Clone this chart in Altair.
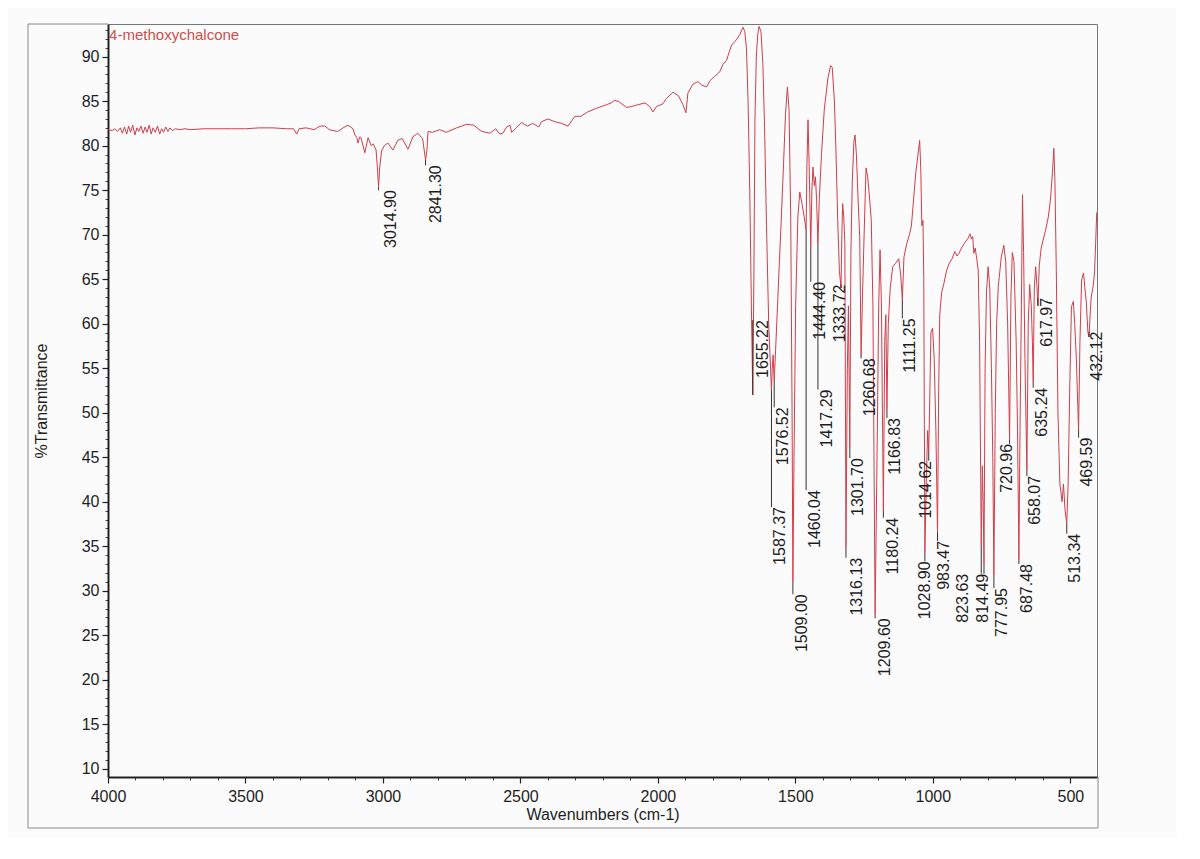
import altair as alt
import pandas as pd

# ---------------- spectrum ----------------
wavenumber = [
    4000, 3985, 3975, 3965, 3955, 3948, 3940, 3932, 3925, 3918, 3910, 3902, 3895, 3888, 3880,
    3872, 3865, 3858, 3850, 3843, 3836, 3828, 3820, 3812, 3805, 3798, 3790, 3782, 3775, 3765,
    3755, 3740, 3720, 3700, 3650, 3600, 3550, 3500, 3450, 3400, 3350, 3325, 3314, 3305, 3280,
    3250, 3229, 3211, 3195, 3182, 3164, 3145, 3127, 3109, 3102, 3095, 3091, 3084, 3080, 3066,
    3054, 3043, 3035, 3025, 3020, 3016, 3012, 3005, 2995, 2982, 2964, 2946, 2930, 2909, 2891,
    2873, 2856, 2850, 2845, 2840, 2836, 2820, 2793, 2770, 2732, 2696, 2670, 2641, 2611, 2590,
    2575, 2564, 2550, 2538, 2532, 2515, 2496, 2475, 2455, 2433, 2423, 2400, 2375, 2350, 2327,
    2302, 2280, 2255, 2223, 2187, 2170, 2157, 2140, 2114, 2095, 2073, 2047, 2030, 2018, 2005,
    1982, 1969, 1945, 1925, 1909, 1898, 1891, 1873, 1855, 1840, 1823, 1811, 1793, 1775, 1764,
    1750, 1740, 1732, 1720, 1712, 1702, 1695, 1690, 1684, 1678, 1672, 1666, 1660, 1655, 1651,
    1647, 1642, 1637, 1632, 1625, 1618, 1612, 1605, 1597, 1587, 1584, 1581, 1577, 1572, 1565,
    1558, 1551, 1543, 1536, 1529, 1523, 1517, 1512, 1509, 1505, 1499, 1491, 1484, 1476, 1468,
    1461, 1458, 1454, 1450, 1444, 1440, 1436, 1431, 1427, 1423, 1418, 1413, 1405, 1395, 1382,
    1372, 1366, 1358, 1352, 1346, 1340, 1334, 1331, 1328, 1324, 1320, 1316, 1311, 1307, 1302,
    1298, 1293, 1287, 1283, 1278, 1272, 1266, 1261, 1256, 1250, 1243, 1237, 1230, 1224, 1218,
    1210, 1203, 1197, 1192, 1187, 1180, 1175, 1171, 1167, 1162, 1155, 1146, 1135, 1124, 1117,
    1111, 1105, 1095, 1085, 1078, 1070, 1062, 1054, 1048, 1044, 1040, 1036, 1033, 1029, 1024,
    1019, 1015, 1011, 1007, 1001, 995, 989, 983, 979, 975, 968, 960, 950, 940, 930,
    920, 912, 905, 896, 884, 872, 865, 860, 855, 851, 846, 840, 835, 830, 824,
    820, 817, 814, 810, 805, 799, 793, 787, 782, 778, 773, 768, 762, 751, 742,
    735, 728, 721, 716, 711, 705, 697, 692, 687, 683, 678, 674, 670, 665, 658,
    653, 648, 642, 638, 635, 631, 626, 622, 618, 613, 606, 598, 590, 580, 572,
    565, 560, 556, 551, 545, 538, 530, 525, 519, 513, 508, 502, 496, 489, 484,
    478, 474, 470, 465, 459, 452, 447, 442, 436, 432, 428, 424, 418, 412, 408,
    404,
]
transmittance = [
    81.8, 81.7, 81.9, 81.6, 82.0, 81.4, 82.1, 81.3, 82.2, 81.5, 82.3, 81.2, 82.0, 81.6, 82.2,
    81.4, 82.1, 81.5, 82.3, 81.3, 82.0, 81.5, 82.2, 81.3, 81.9, 81.5, 82.1, 81.6, 82.0, 81.7,
    81.9, 81.8, 81.9, 81.8, 81.9, 81.9, 81.9, 81.9, 82.0, 82.0, 81.9, 81.9, 81.3, 81.9, 82.0,
    81.8, 82.2, 82.2, 81.8, 81.7, 81.6, 82.0, 82.3, 81.9, 81.2, 80.9, 80.3, 81.0, 80.9, 79.2,
    80.9, 80.0, 80.2, 79.5, 77.5, 75.3, 77.5, 79.4, 80.0, 80.3, 79.5, 80.6, 80.8, 79.6, 81.0,
    81.4, 80.8, 79.5, 78.4, 79.5, 81.6, 81.5, 81.8, 81.5, 82.0, 82.4, 82.3, 81.6, 81.4, 81.9,
    81.3, 81.4, 82.1, 82.3, 81.5, 82.0, 82.6, 82.2, 82.5, 82.1, 82.7, 83.0, 82.7, 82.5, 82.2,
    83.3, 83.3, 83.8, 84.2, 84.6, 84.8, 85.1, 84.9, 84.3, 84.4, 84.6, 84.8, 84.4, 83.8, 84.4,
    84.7, 85.3, 86.0, 85.6, 84.6, 83.7, 85.9, 86.9, 87.2, 86.8, 86.6, 87.3, 87.8, 88.3, 89.1,
    89.6, 90.6, 91.3, 91.7, 92.0, 92.5, 93.0, 93.3, 92.8, 91.0, 85.0, 75.0, 62.0, 52.0, 65.0,
    83.0, 90.0, 92.5, 93.4, 92.8, 89.0, 82.0, 71.0, 60.0, 52.5, 55.0, 56.5, 53.5, 57.0, 62.0,
    67.0, 72.0, 78.0, 83.5, 86.6, 84.0, 72.0, 50.0, 31.0, 45.0, 62.0, 72.0, 74.8, 73.5, 72.0,
    70.5, 78.0, 82.9, 78.0, 68.5, 75.0, 77.6, 75.5, 76.5, 74.0, 69.0, 74.0, 79.0, 84.0, 87.5,
    89.0, 88.8, 85.0, 79.0, 71.6, 66.0, 64.0, 70.0, 73.5, 72.0, 69.0, 35.0, 55.0, 62.0, 46.0,
    68.0, 76.0, 80.5, 81.2, 79.0, 74.0, 69.8, 56.5, 63.0, 70.0, 77.5, 76.5, 74.0, 71.7, 62.0,
    27.3, 45.0, 62.0, 68.3, 62.0, 39.0, 58.0, 61.0, 50.4, 60.0, 64.0, 66.4, 66.8, 67.3, 65.5,
    62.7, 67.5, 69.0, 70.0, 71.0, 74.0, 77.0, 79.0, 80.6, 77.5, 71.0, 71.6, 65.0, 34.3, 42.0,
    48.0, 45.6, 52.0, 59.0, 59.5, 56.0, 48.0, 36.5, 52.0, 61.0, 63.5, 64.5, 66.0, 66.8, 67.3,
    68.1, 67.6, 67.9, 68.5, 69.1, 69.6, 70.1, 69.5, 69.8, 67.9, 68.5, 67.2, 66.0, 58.0, 35.0,
    44.0, 40.0, 33.0, 55.0, 63.5, 66.4, 64.0, 55.0, 45.0, 31.7, 50.0, 60.0, 64.2, 67.5, 68.8,
    67.0, 60.0, 47.0, 63.0, 68.0, 67.0, 58.0, 48.0, 33.5, 48.0, 62.0, 74.5, 68.0, 56.0, 43.5,
    60.0, 64.4, 62.0, 58.0, 53.5, 64.0, 66.4, 64.5, 62.0, 66.5, 68.5, 69.5, 70.5, 72.0, 74.0,
    77.0, 79.7, 76.0, 66.0, 50.0, 42.0, 40.0, 42.0, 39.0, 37.5, 42.0, 53.0, 61.9, 62.5, 60.0,
    56.0, 52.0, 48.0, 58.0, 64.9, 65.7, 64.0, 62.5, 59.0, 58.5, 61.0, 63.0, 64.0, 65.7, 69.0,
    72.5,
]

# ---------------- peak labels ----------------
peak_text = ["3014.90", "2841.30", "1655.22", "1587.37", "1576.52", "1509.00", "1460.04",
             "1444.40", "1417.29", "1333.72", "1316.13", "1301.70", "1260.68", "1209.60",
             "1180.24", "1166.83", "1111.25", "1028.90", "1014.62", "983.47", "823.63",
             "814.49", "777.95", "720.96", "687.48", "658.07", "635.24", "617.97", "513.34",
             "469.59", "432.12"]
peak_pos = [3016, 2845, 1655, 1587, 1577, 1509, 1461, 1444, 1418, 1334, 1316, 1302, 1261,
            1210, 1180, 1167, 1111, 1029, 1015, 983, 824, 814, 778, 721, 687, 658, 635, 618,
            513, 470, 432]
peak_min = [75.3, 78.4, 52.0, 52.5, 53.5, 31.0, 70.5, 68.5, 69.0, 64.0, 35.0, 46.0, 56.5,
            27.3, 39.0, 50.4, 62.7, 34.3, 45.6, 36.5, 35.0, 33.0, 31.7, 47.0, 33.5, 43.5,
            53.5, 62.0, 37.5, 48.0, 58.5]
label_pos = [2971, 2807, 1618, 1557, 1546, 1477, 1429, 1411, 1386, 1338, 1277, 1273, 1229,
             1175, 1146, 1138, 1084, 1029, 1026, 960, 891, 819, 749, 731, 659, 630, 604, 586,
             484, 440, 404]
label_top = [75.0, 77.8, 60.4, 39.4, 50.6, 29.6, 41.3, 64.7, 52.6, 64.4, 33.7, 44.9, 56.1,
             26.9, 38.2, 49.4, 60.6, 33.3, 44.6, 35.6, 31.9, 31.9, 30.3, 46.5, 33.0, 42.9,
             52.8, 62.9, 36.4, 47.2, 59.1]

x_major = [4000, 3500, 3000, 2500, 2000, 1500, 1000, 500]
x_minor = list(range(4000, 400, -100))
y_major = list(range(10, 95, 5))
y_minor = list(range(10, 94))

sample_name = "4-methoxychalcone"

FONT = "Liberation Sans"
TXT = "#1e1e1e"
FS = 16

spec = pd.DataFrame({"wn": wavenumber, "T": transmittance})
peaks = pd.DataFrame({"text": peak_text, "pwn": peak_pos, "pmin": peak_min,
                      "lwn": label_pos, "ltop": label_top})
title_df = pd.DataFrame({"wn": [3996], "T": [92.4], "name": [sample_name]})

xs = alt.Scale(domain=[403, 4000], reverse=True, nice=False, zero=False)
ys = alt.Scale(domain=[9.07, 93.67], nice=False, zero=False)

x_axis = alt.Axis(values=x_major, title="Wavenumbers (cm-1)", orient="bottom", grid=False,
                  labelFont=FONT, labelFontSize=FS, labelColor=TXT, labelFlush=False,
                  labelPadding=5, tickSize=6, tickColor="#222", tickWidth=1.2,
                  domainColor="#222", domainWidth=2, titleFont=FONT, titleFontSize=FS,
                  titleFontWeight="normal", titleColor=TXT, titlePadding=2, format="d")
y_axis = alt.Axis(values=y_major, title="%Transmittance", orient="left", grid=False,
                  labelFont=FONT, labelFontSize=FS, labelColor=TXT, labelPadding=3,
                  tickSize=6, tickColor="#222", tickWidth=1.2, domainColor="#222",
                  domainWidth=2, titleFont=FONT, titleFontSize=FS, titleFontWeight="normal",
                  titleColor=TXT, titlePadding=32, format="d")
x_axis_minor = alt.Axis(values=x_minor, title=None, orient="bottom", grid=False, labels=False,
                        tickSize=3, tickColor="#444", domain=False)
y_axis_minor = alt.Axis(values=y_minor, title=None, orient="left", grid=False, labels=False,
                        tickSize=3, tickColor="#444", domain=False)

line = alt.Chart(spec).mark_line(color="#cc3f4b", strokeWidth=1, clip=True).encode(
    x=alt.X("wn:Q", scale=xs, axis=x_axis),
    y=alt.Y("T:Q", scale=ys, axis=y_axis),
    order=alt.Order("wn:Q", sort="descending"),
)
minor = alt.Chart(spec).mark_point(opacity=0).encode(
    x=alt.X("wn:Q", scale=xs, axis=x_axis_minor),
    y=alt.Y("T:Q", scale=ys, axis=y_axis_minor),
)
leaders = alt.Chart(peaks).mark_rule(color="#333", strokeWidth=1).encode(
    x=alt.X("pwn:Q", scale=xs, axis=None),
    y=alt.Y("pmin:Q", scale=ys, axis=None),
    y2="ltop:Q",
)
labels = alt.Chart(peaks).mark_text(angle=270, align="right", baseline="middle", font=FONT,
                                    fontSize=FS, color=TXT).encode(
    x=alt.X("lwn:Q", scale=xs, axis=None),
    y=alt.Y("ltop:Q", scale=ys, axis=None),
    text="text:N",
)
name = alt.Chart(title_df).mark_text(align="left", baseline="middle", font=FONT, fontSize=15,
                                     color="#c8504f").encode(
    x=alt.X("wn:Q", scale=xs, axis=None),
    y=alt.Y("T:Q", scale=ys, axis=None),
    text="name:N",
)

frame_df = pd.DataFrame({"k": [0]})
fr = alt.Chart(frame_df)
frame_left = fr.mark_rule(color="#8a8a8a", strokeWidth=1).encode(
    x=alt.value(-80), y=alt.value(0), y2=alt.value(804))
frame_bottom = fr.mark_rule(color="#8a8a8a", strokeWidth=1).encode(
    x=alt.value(-80), x2=alt.value(990), y=alt.value(804))
frame_top = fr.mark_rule(color="#8a8a8a", strokeWidth=1).encode(
    x=alt.value(-80), x2=alt.value(0), y=alt.value(0))
frame_right = fr.mark_rule(color="#8a8a8a", strokeWidth=1).encode(
    x=alt.value(990), y=alt.value(753), y2=alt.value(804))

chart = alt.layer(
    minor, line, leaders, labels, name, frame_left, frame_bottom, frame_top, frame_right
).resolve_axis(x="independent", y="independent").properties(
    width=989, height=753,
    autosize=alt.AutoSizeParams(type="none"),
    padding={"left": 100, "top": 16, "right": 80, "bottom": 60},
    background="#fbfbfb",
).configure_view(stroke="#777", strokeWidth=1)

chart.save("out.html", embed_options={"renderer": "svg", "actions": False})
